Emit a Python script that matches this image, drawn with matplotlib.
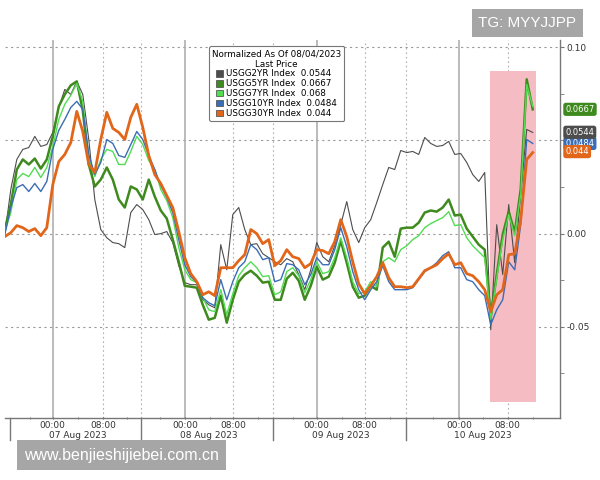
import numpy as np
import matplotlib
matplotlib.use("Agg")
import matplotlib.pyplot as plt
from matplotlib.patches import Patch, Rectangle

# changes since 08/04/2023 in basis points (1 bp = 0.01 on the axis)
usgg2yr = [-0.05, 2.37, 3.98, 4.52, 4.62, 5.22, 4.68, 4.78, 5.43, 6.77,
           7.74, 7.47, 8.17, 7.47, 5.05, 1.83, 0.22, -0.22, -0.48, -0.54,
           -0.75, 1.13, 1.56, 1.29, 0.75, -0.05, 0.0, 0.11, -0.48, -1.72,
           -2.63, -2.74, -2.74, -3.55, -3.82, -3.98, -0.59, -1.94, 1.02, 1.40,
           0.22, -0.59, -0.54, -1.08, -1.29, -1.51, -1.67, -1.34, -1.51, -2.20,
           -3.01, -1.94, -0.48, -1.24, -1.51, -0.65, 0.48, 1.72, 0.22, -0.48,
           0.32, 0.75, 1.67, 2.63, 3.55, 3.44, 4.46, 4.35, 4.41, 4.25,
           5.16, 4.84, 4.68, 4.73, 4.95, 4.25, 4.30, 3.82, 3.17, 2.80,
           3.28, -5.16, 0.48, -2.20, 1.56, -1.56, 2.10, 5.59, 5.43]
usgg5yr = [0.22, 1.56, 3.44, 3.98, 3.71, 4.03, 3.49, 3.98, 5.22, 6.83,
           7.47, 7.96, 8.17, 6.61, 3.71, 2.53, 2.90, 3.55, 2.90, 1.83,
           1.40, 2.53, 2.37, 1.83, 2.90, 1.99, 1.24, 0.81, -0.32, -1.51,
           -2.80, -2.85, -2.90, -3.82, -4.62, -4.52, -3.33, -4.78, -3.55, -2.58,
           -2.20, -1.99, -2.26, -2.63, -2.58, -3.55, -3.55, -2.42, -2.10, -2.53,
           -3.55, -2.80, -1.77, -2.47, -2.31, -1.56, -0.38, -1.56, -2.85, -3.44,
           -3.33, -2.80, -3.01, -0.75, -0.43, -1.24, 0.27, 0.32, 0.32, 0.59,
           1.13, 1.24, 1.18, 1.40, 1.83, 0.97, 1.02, 0.27, -0.16, -0.59,
           -0.86, -4.46, -2.20, -0.05, 1.18, 0.05, 2.37, 8.28, 6.67]
usgg7yr = [0.11, 1.13, 2.90, 3.23, 3.06, 3.55, 3.01, 3.55, 4.68, 6.13,
           6.94, 7.42, 8.06, 7.10, 3.98, 3.06, 3.98, 4.52, 4.41, 3.71,
           3.71, 4.41, 5.22, 4.78, 3.92, 3.44, 2.37, 1.77, 0.86, -0.75,
           -1.94, -2.47, -2.63, -3.44, -4.09, -4.19, -3.01, -4.35, -3.23, -2.26,
           -1.83, -1.51, -1.83, -2.31, -2.26, -3.28, -3.12, -2.04, -1.83, -2.26,
           -3.17, -2.47, -1.51, -2.15, -2.04, -1.29, -0.22, -1.29, -2.58, -3.23,
           -3.12, -2.58, -2.85, -1.51, -1.29, -1.51, -0.86, -0.65, -0.32, -0.11,
           0.32, 0.54, 0.70, 0.86, 1.18, 0.43, 0.48, -0.22, -0.65, -0.97,
           -1.29, -4.62, -2.37, -0.32, 1.02, -0.11, 2.10, 8.01, 6.83]
usgg10yr = [-0.05, 1.40, 2.47, 2.63, 2.26, 2.69, 2.26, 2.80, 4.52, 5.54,
            6.13, 6.77, 7.10, 6.67, 4.25, 3.17, 3.82, 5.05, 4.84, 4.19,
            4.09, 4.78, 5.48, 5.05, 4.19, 3.44, 2.58, 1.94, 1.13, -0.32,
            -1.67, -2.31, -2.63, -3.44, -3.71, -3.87, -2.47, -3.55, -2.58, -1.83,
            -1.51, -0.59, -0.86, -1.40, -1.29, -2.58, -2.47, -1.61, -1.67, -1.94,
            -2.74, -2.20, -1.29, -1.67, -1.67, -0.86, 0.32, -0.70, -2.04, -3.01,
            -3.55, -3.01, -2.58, -1.72, -2.58, -3.01, -3.01, -3.01, -2.90, -2.47,
            -2.04, -1.83, -1.56, -1.18, -0.97, -1.83, -1.83, -2.47, -2.58, -3.01,
            -3.33, -4.89, -4.09, -3.55, -1.51, -1.94, 0.48, 5.05, 4.84]
usgg30yr = [-0.16, 0.05, 0.43, 0.32, 0.11, 0.27, -0.11, 0.32, 2.63, 3.87,
            4.25, 4.89, 6.56, 5.48, 3.71, 3.28, 5.05, 6.51, 5.65, 5.43,
            5.05, 6.24, 6.94, 5.70, 4.19, 3.17, 2.69, 2.04, 1.40, 0.11,
            -1.29, -2.15, -2.58, -3.28, -3.12, -3.33, -1.83, -1.83, -1.83, -1.45,
            -1.13, 0.22, 0.0, -0.54, -0.32, -1.72, -1.45, -0.86, -1.24, -1.34,
            -1.83, -1.61, -0.86, -0.91, -1.08, -0.43, 0.75, -0.16, -1.51, -2.69,
            -3.23, -2.80, -2.31, -1.56, -2.37, -2.85, -2.85, -2.90, -2.85, -2.42,
            -1.99, -1.83, -1.67, -1.34, -1.08, -1.67, -1.56, -2.15, -2.26, -2.58,
            -3.01, -4.19, -3.28, -3.01, -1.13, -1.08, 0.75, 3.98, 4.35]

names = ["USGG2YR Index", "USGG5YR Index", "USGG7YR Index", "USGG10YR Index", "USGG30YR Index"]
last_price = ["0.0544", "0.0667", "0.068", "0.0484", "0.044"]

# x axis in trading hours from the left edge of the chart
day_breaks = [0.8, 21.6, 42.5, 63.7]
midnights = [7.6, 28.6, 49.5, 72.1]
mornings = [15.6, 36.2, 57.1, 79.8]
minor_hours = [4.0, 11.6, 19.4, 24.6, 32.5, 40.2, 45.7, 53.5, 61.1, 67.9, 75.9, 83.8]
day_labels = ["07 Aug 2023", "08 Aug 2023", "09 Aug 2023", "10 Aug 2023"]
last_hour = 83.8
highlight = (77.0, 84.4)

colors = ["#4d4d4d", "#3f8a1e", "#52dc52", "#3a6db4", "#e2661a"]
widths = [0.8, 1.8, 1.0, 1.0, 2.0]
draw_order = [2, 3, 0, 1, 4]

plt.rcParams["font.family"] = ["DejaVu Sans"]
fig = plt.figure(figsize=(6, 4.8), dpi=100)
ax = fig.add_axes([0.008, 0.129, 0.925, 0.788])

series = [usgg2yr, usgg5yr, usgg7yr, usgg10yr, usgg30yr]
hours = np.linspace(0, last_hour, len(usgg2yr))
for i in draw_order:
    ax.plot(hours, np.array(series[i]) / 100, color=colors[i], lw=widths[i], zorder=3 + i * 0.1)

# red box over the last session
ax.add_patch(Rectangle((highlight[0], -0.0903), highlight[1] - highlight[0], 0.1774,
                       facecolor="#f6bcc3", edgecolor="none", zorder=1))

ax.set_xlim(0, 88.1)
ax.set_ylim(-0.099, 0.104)

# grid
for y in [0.10, 0.05, 0.0, -0.05]:
    ax.axhline(y, color="#9a9a9a", lw=0.8, ls=(0, (2, 3)), zorder=0.5)
for x in midnights:
    ax.axvline(x, color="#a8a8a8", lw=1.1, zorder=0.5)
for x in mornings + day_breaks[1:]:
    ax.axvline(x, color="#b0b0b0", lw=0.8, ls=(0, (1.5, 2.5)), zorder=0.5)

for s in ["top", "left"]:
    ax.spines[s].set_visible(False)
for s in ["right", "bottom"]:
    ax.spines[s].set_color("#777777")
    ax.spines[s].set_linewidth(1.0)

ax.yaxis.tick_right()
ax.set_yticks([0.10, 0.0, -0.05])
ax.set_yticklabels(["0.10", "0.00", "-0.05"])
ax.set_yticks(np.arange(-0.075, 0.1, 0.025), minor=True)
ax.tick_params(axis="y", which="both", length=3, color="#777777", labelsize=6.5,
               labelcolor="#333333", pad=2)

ax.set_xticks(sorted(midnights + mornings))
ax.set_xticklabels(["00:00", "08:00"] * 4)
ax.set_xticks(minor_hours, minor=True)
ax.tick_params(axis="x", which="both", length=2, direction="inout", color="#555555",
               labelsize=6.5, labelcolor="#333333", pad=1)

xt = ax.get_xaxis_transform()
for x in day_breaks:
    ax.plot([x, x], [0, -0.058], color="#777777", lw=1.0, transform=xt, clip_on=False)
for m, e, lab in zip(midnights, mornings, day_labels):
    ax.text((m + e) / 2, -0.047, lab, transform=xt, ha="center", va="center",
            fontsize=6.5, color="#333333")

# last value tags on the right axis
yt = ax.get_yaxis_transform()
for i in [3, 0, 4, 1]:
    ax.annotate(last_price[i], xy=(1.0, float(last_price[i])), xycoords=yt,
                xytext=(4, 0), textcoords="offset points", ha="left", va="center",
                fontsize=6, color="white", annotation_clip=False,
                bbox=dict(boxstyle="round,pad=0.25,rounding_size=0.3", fc=colors[i], ec="none"))

handles = [Patch(facecolor=c, edgecolor="#444444", lw=0.5) for c in colors]
labels = [f"{n}  {p}" for n, p in zip(names, last_price)]
leg = ax.legend(handles, labels, title="Normalized As Of 08/04/2023\nLast Price",
                loc="upper left", bbox_to_anchor=(0.36, 0.995), fontsize=6.3,
                title_fontsize=6.3, handlelength=0.8, handleheight=0.8,
                handletextpad=0.3, labelspacing=0.1, borderpad=0.35,
                framealpha=1, edgecolor="#777777", fancybox=True)
leg.get_title().set_multialignment("center")
leg.get_frame().set_linewidth(0.8)
leg.set_zorder(10)

# watermarks
fig.text(0.879, 0.952, "TG: MYYJJPP", ha="center", va="center", fontsize=11,
         color="white", family="Liberation Sans",
         bbox=dict(boxstyle="square,pad=0.45", fc="#a6a6a6", ec="none"))
fig.text(0.202, 0.052, "www.benjieshijiebei.com.cn", ha="center", va="center",
         fontsize=11.5, color="white", family="Liberation Sans",
         bbox=dict(boxstyle="square,pad=0.45", fc="#a6a6a6", ec="none"))

fig.savefig("out.png", dpi=100)
